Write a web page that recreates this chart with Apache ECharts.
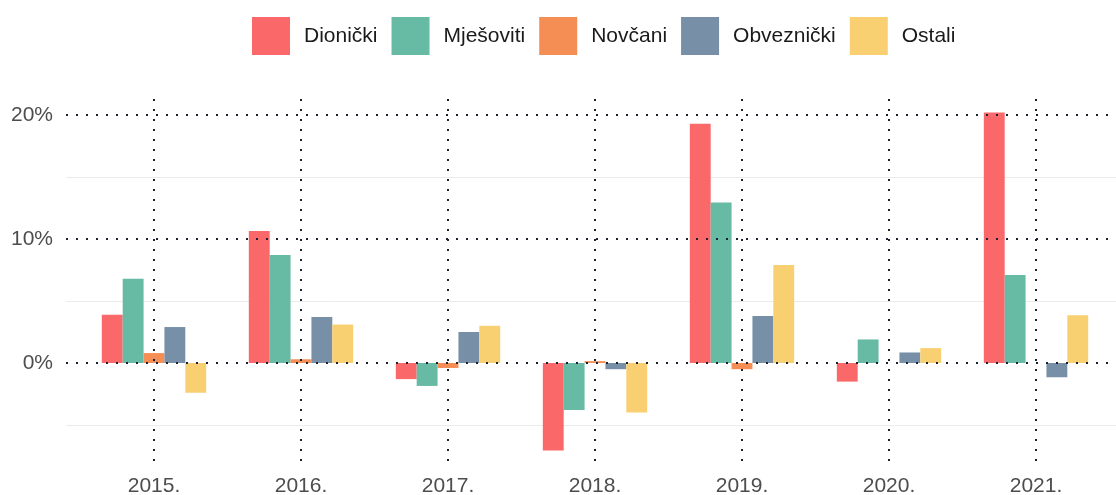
<!DOCTYPE html>
<html>
<head>
<meta charset="utf-8">
<script src="https://cdn.jsdelivr.net/npm/echarts@6/dist/echarts.min.js"></script>
<style>
html,body{margin:0;padding:0;background:#fff;}
#chart{width:1116px;height:495px;}
</style>
</head>
<body>
<div id="chart"></div>
<script>
// ---- data ----
var categories = ['2015.', '2016.', '2017.', '2018.', '2019.', '2020.', '2021.'];
var seriesNames = ['Dionički', 'Mješoviti', 'Novčani', 'Obveznički', 'Ostali'];
var dionicki   = [3.9, 10.65, -1.3, -7.05, 19.3, -1.5, 20.2];
var mjesoviti  = [6.8, 8.7, -1.85, -3.8, 12.95, 1.9, 7.1];
var novcani    = [0.8, 0.3, -0.4, 0.15, -0.5, null, null];
var obveznicki = [2.9, 3.7, 2.5, -0.5, 3.8, 0.85, -1.15];
var ostali     = [-2.4, 3.1, 3.0, -4.0, 7.9, 1.2, 3.85];
var yTickLabels = [0, 10, 20];

// ---- style / layout ----
var colors = ['#FA6869', '#67BAA3', '#F58E55', '#778FA7', '#F9D071'];
var dark = '#1c2130';
var font = 'Liberation Sans, Arial, sans-serif';
var zeroPx = 363, pxPerPct = 12.4, plotTop = 99, plotBottom = 465;
var yMax = (zeroPx - plotTop) / pxPerPct;
var yMin = (zeroPx - plotBottom) / pxPerPct;
var gMin = -10, gMax = 25;

var values = [dionicki, mjesoviti, novcani, obveznicki, ostali];

var chart = echarts.init(document.getElementById('chart'), null, {renderer: 'canvas'});

var series = seriesNames.map(function (n, i) {
  return {
    name: n, type: 'bar', xAxisIndex: 0, yAxisIndex: 0,
    data: values[i], barGap: '0%', barCategoryGap: '29%',
    itemStyle: {color: colors[i]}, z: 2, animation: false
  };
});
series.push({
  name: 'vlines', type: 'line', xAxisIndex: 0, yAxisIndex: 0,
  data: categories.map(function () { return null; }),
  showSymbol: false, silent: true, z: 10, animation: false,
  markLine: {
    silent: true, symbol: ['none', 'none'], animation: false,
    label: {show: false},
    lineStyle: {type: [2, 8], width: 2, color: dark},
    data: categories.map(function (c) {
      return [{coord: [c, yMax]}, {coord: [c, yMin]}];
    })
  }
});

var T = 'rgba(0,0,0,0)', L = '#ebebeb';

chart.setOption({
  backgroundColor: '#fff',
  textStyle: {fontFamily: font},
  legend: {
    data: seriesNames, left: 247, top: 12, itemWidth: 38, itemHeight: 38,
    itemGap: 14, icon: 'rect',
    textStyle: {fontSize: 21, color: '#1a1a1a', fontFamily: font, padding: [2, 0, 0, 9]}
  },
  grid: [
    {left: 80.5, width: 1029, top: plotTop, height: plotBottom - plotTop, containLabel: false, outerBoundsMode: 'none'},
    {left: 66, right: 0, top: zeroPx - gMax * pxPerPct, height: (gMax - gMin) * pxPerPct, containLabel: false, outerBoundsMode: 'none'}
  ],
  xAxis: [
    {
      type: 'category', gridIndex: 0, data: categories,
      axisLine: {show: false}, axisTick: {show: false}, splitLine: {show: false},
      axisLabel: {fontSize: 21, color: '#4d4d4d', margin: 11, fontFamily: font}
    },
    {type: 'value', gridIndex: 1, show: false, min: 0, max: 1}
  ],
  yAxis: [
    {type: 'value', gridIndex: 0, min: yMin, max: yMax, show: false, splitLine: {show: false}},
    {
      type: 'value', gridIndex: 1, position: 'left', min: gMin, max: gMax, interval: 5, z: 0,
      axisLine: {show: false}, axisTick: {show: false}, axisLabel: {show: false},
      splitLine: {show: true, lineStyle: {color: [T, L, T, L, T, L, T, T], width: 1}}
    },
    {
      type: 'value', gridIndex: 1, position: 'left', offset: 0, min: gMin, max: gMax, interval: 10, z: 10,
      axisLine: {show: false}, axisTick: {show: false},
      axisLabel: {
        fontSize: 21, color: '#4d4d4d', margin: 13, fontFamily: font,
        formatter: function (v) { return yTickLabels.indexOf(v) >= 0 ? v + '%' : ''; }
      },
      splitLine: {show: true, lineStyle: {color: [T, dark, dark, dark, T], width: 2, type: [2, 8]}}
    }
  ],
  series: series
});
</script>
</body>
</html>
